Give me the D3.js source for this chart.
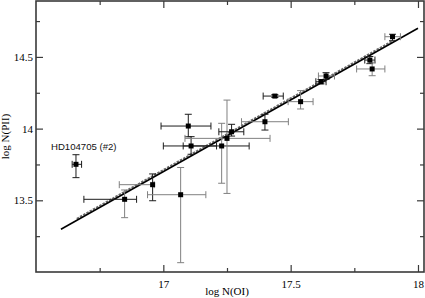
<!DOCTYPE html>
<html>
<head>
<meta charset="utf-8">
<script src="https://cdn.jsdelivr.net/npm/d3@7/dist/d3.min.js"></script>
<style>
  html, body { margin: 0; padding: 0; background: #fff; }
  svg { display: block; }
</style>
</head>
<body>
<div id="chart"></div>
<script>
// ---------------- data ----------------
const logNOI = [16.657, 16.848, 16.958, 17.068, 17.098, 17.109, 17.229, 17.250, 17.268, 17.399, 17.438, 17.539, 17.619, 17.639, 17.811, 17.820, 17.900];
const logNPII = [13.751, 13.507, 13.609, 13.539, 14.018, 13.879, 13.879, 13.932, 13.978, 14.048, 14.227, 14.188, 14.327, 14.367, 14.478, 14.416, 14.641];
const xErrMinus = [0.015, 0.160, 0.131, 0.130, 0.107, 0.109, 0.151, 0.165, 0.050, 0.092, 0.046, 0.049, 0.020, 0.030, 0.020, 0.061, 0.030];
const xErrPlus  = [0.022, 0.047, 0.006, 0.099, 0.089, 0.100, 0.108, 0.169, 0.048, 0.092, 0.033, 0.049, 0.020, 0.033, 0.020, 0.050, 0.031];
const yErrMinus = [0.093, 0.128, 0.112, 0.474, 0.075, 0.058, 0.260, 0.384, 0.030, 0.058, 0.010, 0.051, 0.015, 0.023, 0.025, 0.047, 0.028];
const yErrPlus  = [0.067, 0.065, 0.075, 0.190, 0.082, 0.065, 0.158, 0.267, 0.052, 0.052, 0.010, 0.077, 0.015, 0.023, 0.025, 0.047, 0.017];
// source group of each error bar (x and y)
const xBarGroup = ["a","a","b","b","a","a","a","b","a","b","a","b","a","b","a","b","b"];
const yBarGroup = ["a","b","a","b","a","a","b","b","a","a","a","b","a","a","a","b","a"];
const labelText = "HD104705 (#2)";
const labelIndex = 0;
// fits
const fitX = [16.598, 18.0];
const fitY = [13.298, 14.700];
const fit2X = [16.66, 17.90];
const fit2Y = [13.372, 14.612];
// axes
const xMajorTicks = [17, 17.5, 18];
const xMinorTicks = [16.75, 17.25, 17.75];
const yMajorTicks = [13.5, 14, 14.5];
const yMinorTicks = [13.25, 13.75, 14.25, 14.75];
const xTitle = "log N(OI)";
const yTitle = "log N(PII)";

// ---------------- layout ----------------
const W = 425, H = 298;
const mLeft = 36, mRight = 424, mTop = 1, mBottom = 272;

const x = d3.scaleLinear().domain([16.5, 18.0236]).range([mLeft, mRight]);
const y = d3.scaleLinear().domain([13.0, 14.89]).range([mBottom, mTop]);
const tone = d3.scaleOrdinal().domain(["a","b"]).range(["#1c1c1c", "#808080"]);

const svg = d3.select("#chart").append("svg").attr("width", W).attr("height", H);

const serif = "'Liberation Serif', 'DejaVu Serif', serif";
const frameColor = "#3a3a3a";

function styleAxis(g) {
  g.select(".domain").remove();
  g.selectAll(".tick line").attr("stroke", frameColor).attr("stroke-width", 1.2);
  g.selectAll("text").attr("font-family", serif).attr("font-size", 11).attr("fill", "#000");
}
svg.append("g").attr("transform", `translate(0,${mBottom})`)
  .call(d3.axisBottom(x).tickValues(xMajorTicks).tickFormat(d3.format("")).tickSize(-7).tickPadding(8))
  .call(styleAxis);
svg.append("g").attr("transform", `translate(0,${mBottom})`)
  .call(d3.axisBottom(x).tickValues(xMinorTicks).tickFormat("").tickSize(-4))
  .call(styleAxis);
svg.append("g").attr("transform", `translate(0,${mTop})`)
  .call(d3.axisTop(x).tickValues(xMajorTicks).tickFormat("").tickSize(-7))
  .call(styleAxis);
svg.append("g").attr("transform", `translate(0,${mTop})`)
  .call(d3.axisTop(x).tickValues(xMinorTicks).tickFormat("").tickSize(-4))
  .call(styleAxis);
svg.append("g").attr("transform", `translate(${mLeft},0)`)
  .call(d3.axisLeft(y).tickValues(yMajorTicks).tickFormat(d3.format("")).tickSize(-7).tickPadding(3))
  .call(styleAxis);
svg.append("g").attr("transform", `translate(${mLeft},0)`)
  .call(d3.axisLeft(y).tickValues(yMinorTicks).tickFormat("").tickSize(-4))
  .call(styleAxis);
svg.append("g").attr("transform", `translate(${mRight},0)`)
  .call(d3.axisRight(y).tickValues(yMajorTicks).tickFormat("").tickSize(-7))
  .call(styleAxis);
svg.append("g").attr("transform", `translate(${mRight},0)`)
  .call(d3.axisRight(y).tickValues(yMinorTicks).tickFormat("").tickSize(-4))
  .call(styleAxis);

svg.append("rect").attr("x", mLeft).attr("y", mTop).attr("width", mRight - mLeft).attr("height", mBottom - mTop)
  .attr("fill", "none").attr("stroke", frameColor).attr("stroke-width", 1.6);

svg.append("text").attr("x", x(17.25)).attr("y", 295).attr("text-anchor", "middle")
  .attr("font-family", serif).attr("font-size", 11).text(xTitle);
svg.append("text").attr("transform", `translate(9,${(mTop + mBottom) / 2}) rotate(-90)`)
  .attr("text-anchor", "middle").attr("font-family", serif).attr("font-size", 11).text(yTitle);

const line = d3.line().x(d => x(d[0])).y(d => y(d[1]));
svg.append("path").datum(d3.zip(fit2X, fit2Y)).attr("d", line)
  .attr("fill", "none").attr("stroke", "#6a6a6a").attr("stroke-width", 1.8)
  .attr("stroke-dasharray", "2.5,1.2");
svg.append("path").datum(d3.zip(fitX, fitY)).attr("d", line)
  .attr("fill", "none").attr("stroke", "#000").attr("stroke-width", 1.6);

const idx = d3.range(logNOI.length);
const cap = 3.5;
const eb = svg.append("g").attr("fill", "none").attr("stroke-width", 1);
idx.forEach(i => {
  const px = x(logNOI[i]), py = y(logNPII[i]);
  const x0 = x(logNOI[i] - xErrMinus[i]), x1 = x(logNOI[i] + xErrPlus[i]);
  const y0 = y(logNPII[i] - yErrMinus[i]), y1 = y(logNPII[i] + yErrPlus[i]);
  const cx = tone(xBarGroup[i]), cy = tone(yBarGroup[i]);
  eb.append("path").attr("stroke", cx)
    .attr("d", `M${x0},${py}H${x1}M${x0},${py - cap}V${py + cap}M${x1},${py - cap}V${py + cap}`);
  eb.append("path").attr("stroke", cy)
    .attr("d", `M${px},${y0}V${y1}M${px - cap},${y0}H${px + cap}M${px - cap},${y1}H${px + cap}`);
});

const ms = 5;
svg.append("g").selectAll("rect").data(idx).join("rect")
  .attr("x", i => x(logNOI[i]) - ms / 2).attr("y", i => y(logNPII[i]) - ms / 2)
  .attr("width", ms).attr("height", ms).attr("fill", "#000");

svg.append("text")
  .attr("x", x(logNOI[labelIndex]) - 25).attr("y", y(logNPII[labelIndex]) - 14)
  .attr("font-family", "'Liberation Sans', Arial, sans-serif").attr("font-size", 9.6)
  .attr("fill", "#111").text(labelText);
</script>
</body>
</html>
